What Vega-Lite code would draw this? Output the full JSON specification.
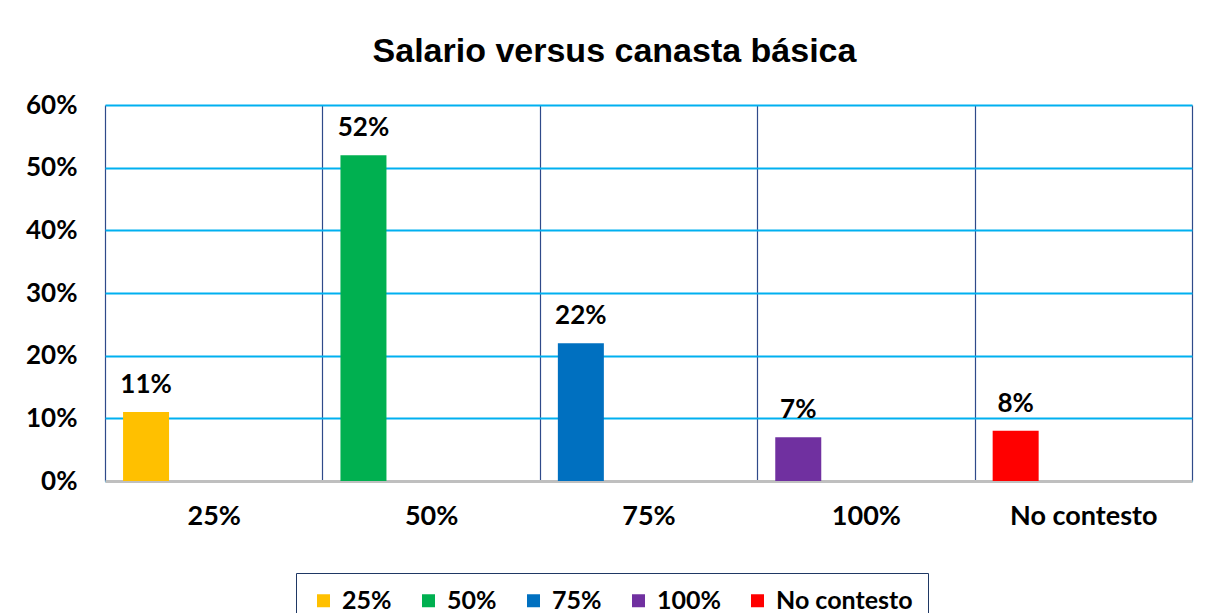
{
  "$schema": "https://vega.github.io/schema/vega-lite/v6.json",
  "width": 1087,
  "height": 376,
  "autosize": "none",
  "padding": {"left": 105, "top": 105, "right": 19, "bottom": 132},
  "background": "white",
  "title": {
    "text": "Salario versus canasta básica",
    "font": "Liberation Sans",
    "fontSize": 34,
    "fontWeight": "bold",
    "color": "#000000",
    "anchor": "middle",
    "dx": -34,
    "offset": -11,
    "baseline": "bottom",
    "limit": 0
  },
  "data": {
    "values": [
      {"categoria": "25%", "serie": "25%", "valor": 0.11},
      {"categoria": "50%", "serie": "50%", "valor": 0.52},
      {"categoria": "75%", "serie": "75%", "valor": 0.22},
      {"categoria": "100%", "serie": "100%", "valor": 0.07},
      {"categoria": "No contesto", "serie": "No contesto", "valor": 0.08}
    ]
  },
  "encoding": {
    "x": {
      "field": "categoria",
      "type": "nominal",
      "sort": ["25%", "50%", "75%", "100%", "No contesto"],
      "scale": {"paddingInner": 0, "paddingOuter": 0},
      "axis": {
        "title": null,
        "labelAngle": 0,
        "labelFont": "Lato",
        "labelFontSize": 27,
        "labelFontWeight": "bold",
        "labelColor": "#000000",
        "labelPadding": 22,
        "ticks": false,
        "domainColor": "#BFBFBF",
        "domainWidth": 3,
        "grid": true,
        "tickBand": "extent",
        "gridColor": "#2F4A8A",
        "gridWidth": 1.2
      }
    },
    "xOffset": {
      "datum": "a",
      "scale": {"domain": ["a", "b", "c"], "paddingInner": 0, "paddingOuter": 0.107}
    },
    "y": {
      "field": "valor",
      "type": "quantitative",
      "scale": {"domain": [0, 0.6]},
      "axis": {
        "title": null,
        "format": ".0%",
        "values": [0, 0.1, 0.2, 0.3, 0.4, 0.5, 0.6],
        "labelFont": "Lato",
        "labelFontSize": 26,
        "labelFontWeight": "bold",
        "labelColor": "#000000",
        "labelPadding": 28,
        "ticks": false,
        "domain": false,
        "grid": true,
        "gridColor": "#00B0F0",
        "gridWidth": 2
      }
    }
  },
  "layer": [
    {
      "mark": {"type": "bar", "width": 46},
      "encoding": {
        "color": {
          "field": "serie",
          "type": "nominal",
          "sort": ["25%", "50%", "75%", "100%", "No contesto"],
          "scale": {
            "domain": ["25%", "50%", "75%", "100%", "No contesto"],
            "range": ["#FFC000", "#00B050", "#0070C0", "#7030A0", "#FF0000"]
          },
          "legend": {
            "title": null,
            "orient": "none",
            "direction": "horizontal",
            "legendX": 191,
            "legendY": 468,
            "strokeColor": "#1F3864",
            "padding": 15,
            "symbolType": "square",
            "symbolSize": 169,
            "symbolStrokeWidth": 0,
            "symbolOpacity": 1,
            "labelFont": "Lato",
            "labelFontSize": 25,
            "labelFontWeight": "bold",
            "labelColor": "#000000",
            "labelOffset": 6,
            "columnPadding": 24,
            "fillColor": "white"
          }
        }
      }
    },
    {
      "mark": {
        "type": "text",
        "baseline": "bottom",
        "dy": -14,
        "font": "Lato",
        "fontSize": 26,
        "fontWeight": "bold",
        "color": "#000000"
      },
      "encoding": {
        "text": {"field": "valor", "type": "quantitative", "format": ".0%"}
      }
    }
  ],
  "config": {
    "view": {"stroke": null}
  }
}
